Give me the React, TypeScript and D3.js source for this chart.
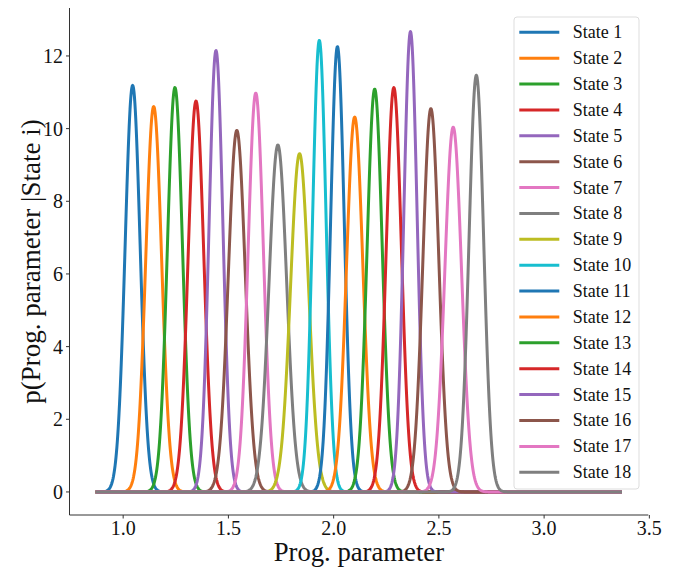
import React from "react";
import * as d3 from "d3";

const stateNames = [
  "State 1", "State 2", "State 3", "State 4", "State 5", "State 6",
  "State 7", "State 8", "State 9", "State 10", "State 11", "State 12",
  "State 13", "State 14", "State 15", "State 16", "State 17", "State 18",
];
const stateMeans = [
  1.045, 1.145, 1.246, 1.346, 1.441, 1.54, 1.63, 1.735, 1.838,
  1.932, 2.018, 2.1, 2.195, 2.286, 2.365, 2.462, 2.568, 2.678,
];
const statePeaks = [
  11.19, 10.61, 11.13, 10.76, 12.15, 9.95, 10.98, 9.55, 9.31,
  12.43, 12.26, 10.32, 11.09, 11.13, 12.67, 10.55, 10.04, 11.47,
];
const xRangeData = [0.87, 3.37];
const xTicks = [1.0, 1.5, 2.0, 2.5, 3.0, 3.5];
const yTicks = [0, 2, 4, 6, 8, 10, 12];

const W = 678, H = 568;
const left = 69.5, right = 648.3, top = 8, bottom = 515;
const FONT = "'Liberation Serif', 'Times New Roman', serif";

export default function App() {
  const x = d3.scaleLinear().domain([0.745, 3.495]).range([left, right]);
  const y = d3.scaleLinear().domain([-0.6345, 13.32]).range([bottom, top]);
  const colors = d3.schemeCategory10;
  const N = 1200;
  const xs = d3.range(N).map((i) => xRangeData[0] + ((xRangeData[1] - xRangeData[0]) * i) / (N - 1));
  const line = d3.line<[number, number]>().x((d) => x(d[0])).y((d) => y(d[1]));
  const curves = stateMeans.map((m, i) => {
    const peak = statePeaks[i];
    const s = 1 / (peak * Math.sqrt(2 * Math.PI));
    return xs.map((v) => [v, peak * Math.exp(-0.5 * ((v - m) / s) ** 2)] as [number, number]);
  });
  const legX = 514, legY = 17, legW = 125, legH = 472;
  const rowY0 = 32.3, rowDy = 25.88;
  return (
    <svg width={W} height={H} style={{ position: "absolute", left: 0, top: 0, background: "#fff" }} fontFamily={FONT}>
      <rect width={W} height={H} fill="#fff" />
      {curves.map((c, i) => (
        <path key={i} d={line(c) || ""} fill="none" stroke={colors[i % 10]} strokeWidth={3} strokeLinejoin="round" />
      ))}
      {/* spines */}
      <line x1={left} x2={left} y1={top} y2={bottom} stroke="#333" strokeWidth={1} />
      <line x1={left} x2={right} y1={bottom} y2={bottom} stroke="#333" strokeWidth={1} />
      {xTicks.map((t) => (
        <g key={"x" + t}>
          <line x1={x(t)} x2={x(t)} y1={bottom} y2={bottom + 3.5} stroke="#333" strokeWidth={1} />
          <text x={x(t)} y={535} textAnchor="middle" fontSize={20} fill="#111">{t.toFixed(1)}</text>
        </g>
      ))}
      {yTicks.map((t) => (
        <g key={"y" + t}>
          <line x1={left - 3.5} x2={left} y1={y(t)} y2={y(t)} stroke="#333" strokeWidth={1} />
          <text x={63} y={y(t)} dy="0.35em" textAnchor="end" fontSize={20} fill="#111">{t}</text>
        </g>
      ))}
      <text x={(left + right) / 2} y={561} textAnchor="middle" fontSize={26.7} fill="#111">Prog. parameter</text>
      <text transform={`translate(40,${(top + bottom) / 2}) rotate(-90)`} textAnchor="middle" fontSize={27} fill="#111">
        p(Prog. parameter |State i)
      </text>
      {/* legend */}
      <rect x={legX} y={legY} width={legW} height={legH} rx={3} fill="#fff" fillOpacity={0.8} stroke="#ddd" strokeWidth={1} />
      {stateNames.map((n, i) => (
        <g key={n}>
          <line x1={519.3} x2={559.3} y1={rowY0 + i * rowDy} y2={rowY0 + i * rowDy} stroke={colors[i % 10]} strokeWidth={3} />
          <text x={572.7} y={rowY0 + i * rowDy} dy="0.33em" fontSize={18} fill="#111">{n}</text>
        </g>
      ))}
    </svg>
  );
}
